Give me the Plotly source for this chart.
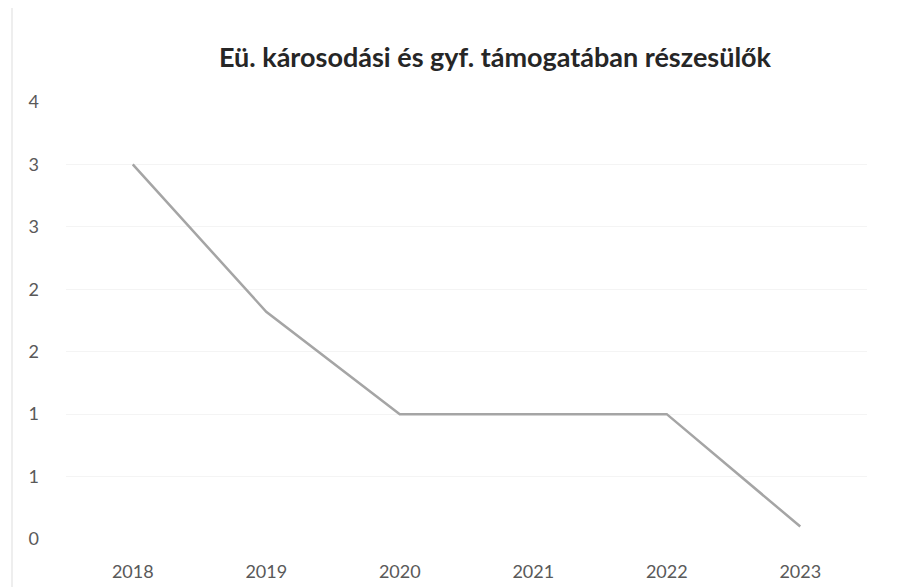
import plotly.graph_objects as go

years = ["2018", "2019", "2020", "2021", "2022", "2023"]
values = [3.0, 1.82, 1.0, 1.0, 1.0, 0.1]
y_tick_vals = [0, 0.5, 1, 1.5, 2, 2.5, 3, 3.5]
y_tick_text = ["0", "1", "1", "2", "2", "3", "3", "4"]
title_text = "Eü. károsodási és gyf. támogatában részesülők"

L, R, T, B = 58, 43, 94, 56
W, H = 902, 587
pw, ph = W - L - R, H - T - B

fig = go.Figure()
fig.add_trace(go.Scatter(
    x=years, y=values, mode="lines",
    line=dict(color="#a5a5a5", width=2.5),
    hoverinfo="skip", showlegend=False,
))

fig.update_layout(
    width=W, height=H,
    paper_bgcolor="white", plot_bgcolor="white",
    margin=dict(l=L, r=R, t=T, b=B),
    title=dict(text="<b>" + title_text + "</b>", x=487 / W, xanchor="center",
               y=1 - 50 / H, yanchor="middle",
               font=dict(family="Lato, Open Sans, sans-serif", size=27, color="#262626")),
    font=dict(family="Lato, Open Sans, sans-serif", size=18, color="#595959"),
)
fig.update_xaxes(
    type="category", range=[-0.5, 5.5], showgrid=False, zeroline=False, showline=False,
    ticks="", ticklabelstandoff=20, tickfont=dict(size=18, color="#595959"),
)
fig.update_yaxes(
    range=[0, 3.5], tickvals=y_tick_vals, ticktext=y_tick_text,
    showgrid=True, gridcolor="#f4f4f4", gridwidth=1,
    zeroline=False, showline=False, ticks="",
    ticklabelstandoff=26, tickfont=dict(size=18, color="#595959"),
)
fig.add_shape(type="line", xref="paper", yref="paper",
              x0=(4 - L) / pw, x1=(4 - L) / pw, y0=-B / ph, y1=(ph + T) / ph,
              line=dict(color="#eeeeee", width=2))

fig.write_html("out.html")
